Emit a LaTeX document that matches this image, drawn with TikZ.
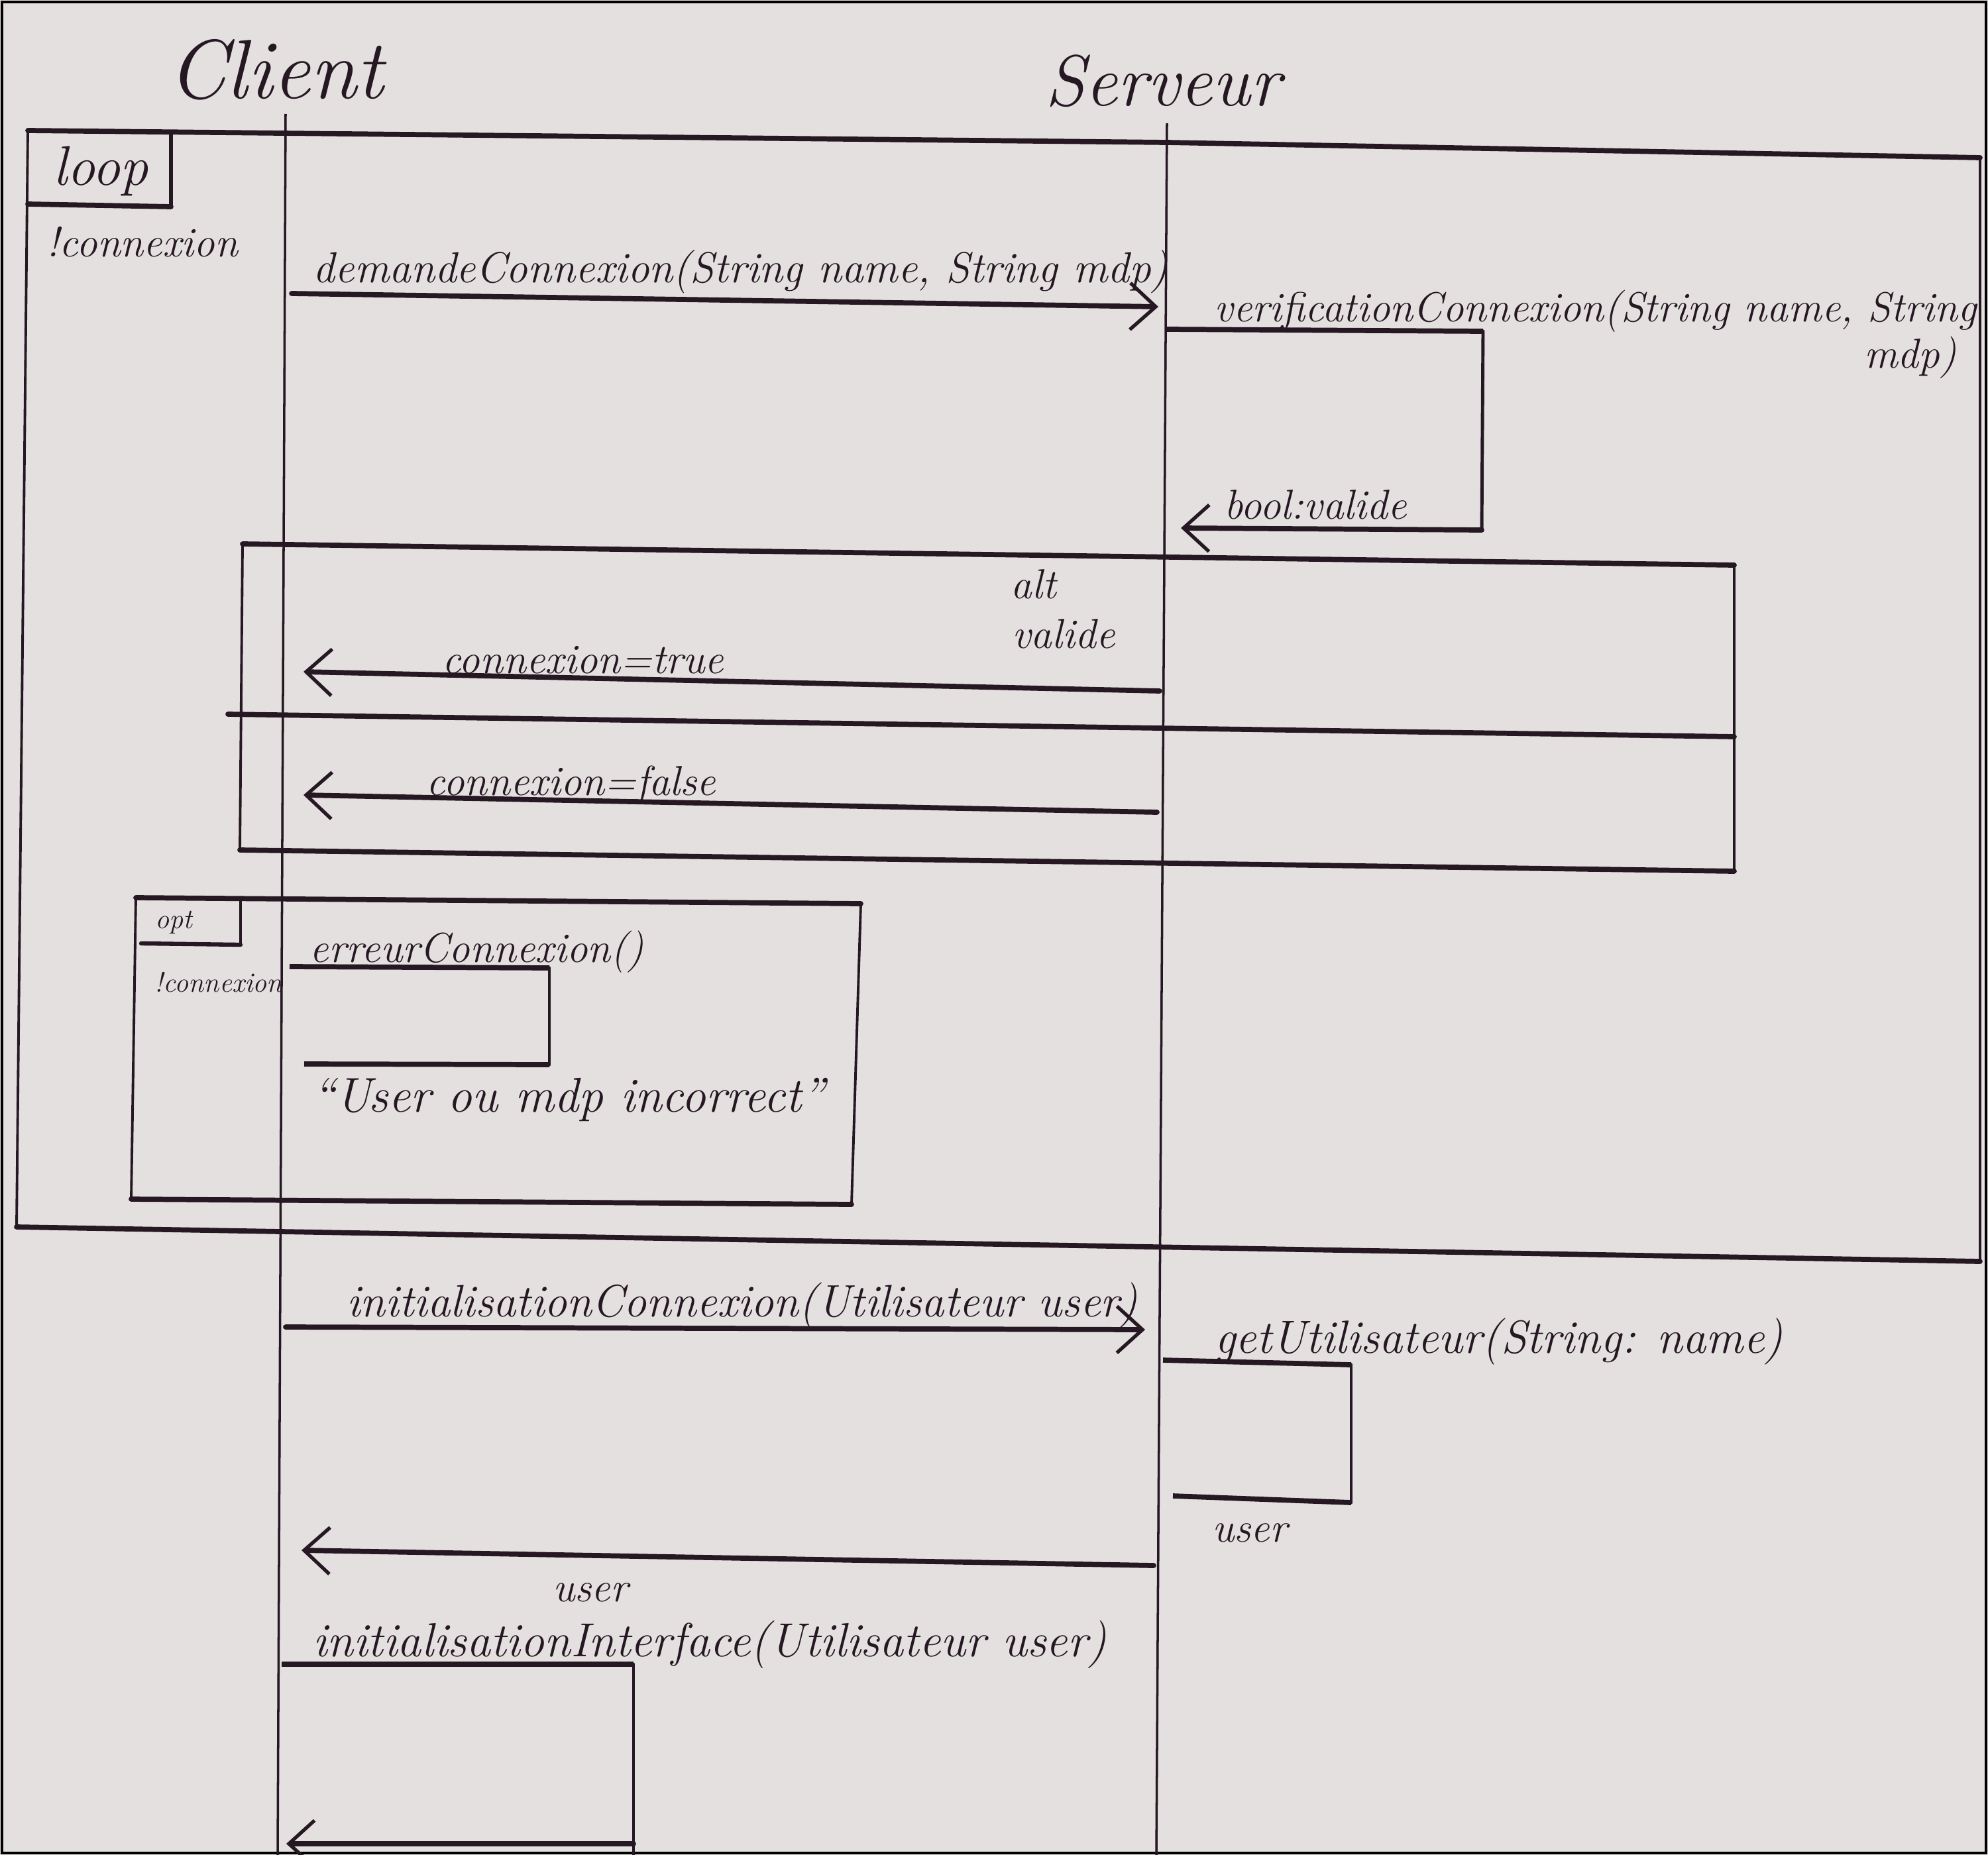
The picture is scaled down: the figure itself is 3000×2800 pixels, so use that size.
\documentclass[tikz,border=0pt]{standalone}
\usetikzlibrary{arrows.meta}
\definecolor{ink}{RGB}{38,24,34}
\definecolor{paper}{RGB}{228,224,224}
\begin{document}
\begin{tikzpicture}[x=0.01cm,y=-0.01cm,
  hline/.style={draw=ink, line width=2.2pt, line cap=round, line join=round},
  vline/.style={draw=ink, line width=1.1pt, line cap=round},
  lifeline/.style={draw=ink, line width=1pt},
  msg/.style={draw=ink, line width=2.2pt, line cap=round,
    -{Straight Barb[length=11pt,width=20pt,line width=1.5pt]}},
  selfmsg/.style={draw=ink, line width=2.2pt, line join=round},
  txt/.style={text=ink, font=\fontsize{18}{20}\selectfont\itshape, inner sep=0pt},
  smalltxt/.style={text=ink, font=\fontsize{12}{14}\selectfont\itshape, inner sep=0pt},
  bigtxt/.style={text=ink, font=\fontsize{36}{40}\selectfont\itshape, inner sep=0pt}]

% paper
\fill[paper] (0,0) rectangle (3000,2800);
\draw[black, line width=1.2pt] (3,3) rectangle (2997,2797);
\useasboundingbox (0,0) rectangle (3000,2800);

% participants
\node[bigtxt] (client) at (416,105) {Client};
\node[bigtxt, font=\fontsize{31}{36}\selectfont\itshape] (serveur) at (1755,122) {Serveur};

% lifelines
\coordinate (cTop) at (431,172);
\coordinate (cBot) at (419,2800);
\coordinate (sTop) at (1761,186);
\coordinate (sBot) at (1745,2800);
\draw[lifeline] (cTop) -- (cBot);
\draw[lifeline] (sTop) -- (sBot);

% loop frame
\coordinate (lp1) at (42,197);
\coordinate (lp2) at (1761,215);
\coordinate (lp3) at (2988,238);
\coordinate (lp4) at (2988,1904);
\coordinate (lp5) at (25,1852);
\draw[hline] (lp1) -- (lp2) -- (lp3);
\draw[vline] (lp3) -- (lp4);
\draw[hline] (lp4) -- (lp5);
\draw[vline] (lp5) -- (lp1);
% loop tag
\coordinate (lt1) at (258,201);
\coordinate (lt2) at (258,312);
\coordinate (lt3) at (42,308);
\draw[vline, line width=1.6pt] (lt1) -- (lt2);
\draw[hline] (lt2) -- (lt3);
\node[txt, font=\fontsize{24}{26}\selectfont\itshape] (loop) at (152,258) {loop};
\node[txt] (loopcond) at (215,365) {!connexion};

% demandeConnexion
\coordinate (m1a) at (440,443);
\coordinate (m1b) at (1748,463);
\draw[msg] (m1a) -- (m1b);
\node[txt, font=\fontsize{18.6}{20}\selectfont\itshape] (m1t) at (1118,410) {demandeConnexion(String name, String mdp)};

% verificationConnexion self call
\coordinate (v1) at (1761,497);
\coordinate (v2) at (2238,500);
\coordinate (v3) at (2236,800);
\coordinate (v4) at (1782,797);
\draw[selfmsg] (v1) -- (v2);
\draw[vline, line width=1.4pt] (v2) -- (v3);
\draw[msg] (v3) -- (v4);
\node[txt, anchor=west] (vt1) at (1832,470) {verificationConnexion(String name, String};
\node[txt, anchor=east] (vt2) at (2953,540) {mdp)};
\node[txt] (vret) at (1985,762) {bool:valide};

% alt frame
\coordinate (a1) at (366,821);
\coordinate (a2) at (2617,853);
\coordinate (a3) at (2617,1315);
\coordinate (a4) at (362,1283);
\coordinate (s1) at (344,1078);
\coordinate (s2) at (2617,1112);
\draw[hline] (a1) -- (a2);
\draw[vline] (a2) -- (a3);
\draw[hline] (a3) -- (a4);
\draw[vline] (a4) -- (a1);
\draw[hline] (s1) -- (s2);
\node[txt] (alt) at (1560,882) {alt};
\node[txt] (altcond) at (1605,957) {valide};

% connexion = true / false
\coordinate (t1) at (1750,1043);
\coordinate (t2) at (458,1014);
\draw[msg] (t1) -- (t2);
\node[txt] (tt) at (880,996) {connexion=true};
\coordinate (f1) at (1746,1226);
\coordinate (f2) at (458,1200);
\draw[msg] (f1) -- (f2);
\node[txt] (ft) at (862,1185) {connexion=false};

% opt frame
\coordinate (o1) at (205,1355);
\coordinate (o2) at (1299,1364);
\coordinate (o3) at (1285,1818);
\coordinate (o4) at (198,1810);
\draw[hline] (o1) -- (o2);
\draw[vline] (o2) -- (o3);
\draw[hline] (o3) -- (o4);
\draw[vline] (o4) -- (o1);
\coordinate (ot1) at (363,1357);
\coordinate (ot2) at (363,1426);
\coordinate (ot3) at (213,1424);
\draw[vline, line width=1.4pt] (ot1) -- (ot2);
\draw[hline, line width=1.8pt] (ot2) -- (ot3);
\node[smalltxt] (opt) at (262,1392) {opt};
\node[smalltxt] (optcond) at (330,1483) {!connexion};

% erreurConnexion self call
\coordinate (e1) at (437,1459);
\coordinate (e2) at (829,1461);
\coordinate (e3) at (829,1607);
\coordinate (e4) at (459,1606);
\draw[selfmsg] (e1) -- (e2);
\draw[vline, line width=1.4pt] (e2) -- (e3);
\draw[selfmsg] (e3) -- (e4);
\node[txt] (et) at (720,1437) {erreurConnexion()};
\node[txt, font=\fontsize{21}{24}\selectfont\itshape] (err) at (858,1660) {“User ou mdp incorrect”};

% initialisationConnexion
\coordinate (i1) at (431,2003);
\coordinate (i2) at (1728,2007);
\draw[msg] (i1) -- (i2);
\node[txt, font=\fontsize{19.5}{22}\selectfont\itshape] (it) at (1120,1970) {initialisationConnexion(Utilisateur user)};

% getUtilisateur self call
\coordinate (g1) at (1755,2053);
\coordinate (g2) at (2039,2060);
\coordinate (g3) at (2039,2268);
\coordinate (g4) at (1770,2258);
\draw[selfmsg] (g1) -- (g2);
\draw[vline, line width=1.4pt] (g2) -- (g3);
\draw[selfmsg] (g3) -- (g4);
\node[txt, font=\fontsize{20}{22}\selectfont\itshape] (gt) at (2262,2025) {getUtilisateur(String: name)};
\node[txt] (gret) at (1886,2314) {user};

% return user
\coordinate (r1) at (1741,2363);
\coordinate (r2) at (455,2340);
\draw[msg] (r1) -- (r2);
\node[txt] (rt) at (891,2404) {user};

% initialisationInterface self call
\coordinate (n1) at (425,2512);
\coordinate (n2) at (956,2512);
\coordinate (n3) at (956,2800);
\coordinate (n4) at (956,2783);
\coordinate (n5) at (432,2783);
\draw[selfmsg] (n1) -- (n2);
\draw[vline, line width=1.4pt] (n2) -- (n3);
\draw[msg] (n4) -- (n5);
\node[txt, font=\fontsize{20.5}{23}\selectfont\itshape] (nt) at (1071,2482) {initialisationInterface(Utilisateur user)};

\end{tikzpicture}
\end{document}
